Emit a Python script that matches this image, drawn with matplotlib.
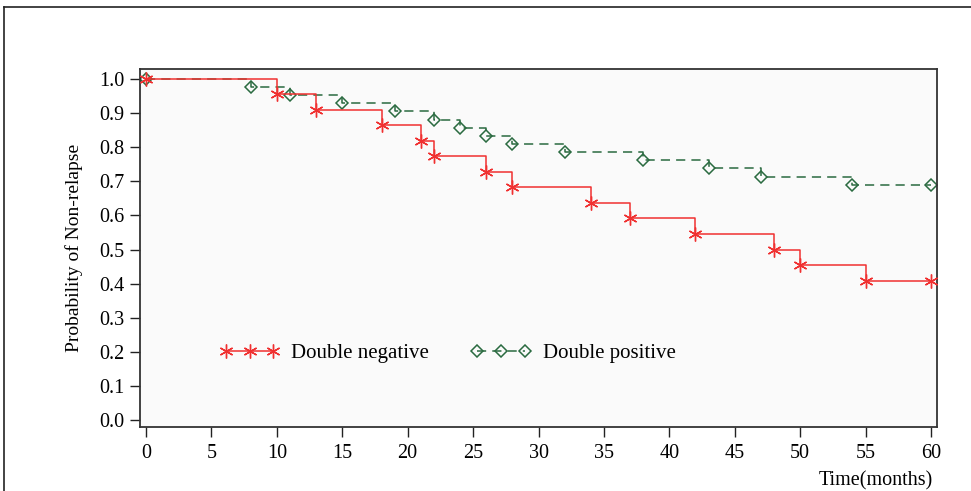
import matplotlib
matplotlib.use("Agg")
import matplotlib.pyplot as plt
from matplotlib.lines import Line2D

plt.rcParams['font.family'] = ['Liberation Serif', 'DejaVu Serif']

# Data
neg_time = [0, 10, 13, 18, 21, 22, 26, 28, 34, 37, 42, 48, 50, 55, 60]
neg_surv = [1.0, 0.955, 0.909, 0.864, 0.818, 0.773, 0.727, 0.682, 0.636, 0.591, 0.545, 0.500, 0.455, 0.409, 0.409]
pos_time = [0, 8, 11, 15, 19, 22, 24, 26, 28, 32, 38, 43, 47, 54, 60]
pos_surv = [1.0, 0.976, 0.952, 0.929, 0.905, 0.881, 0.857, 0.833, 0.810, 0.786, 0.762, 0.738, 0.714, 0.690, 0.690]
x_ticks = list(range(0, 61, 5))
y_ticks = [0.0, 0.1, 0.2, 0.3, 0.4, 0.5, 0.6, 0.7, 0.8, 0.9, 1.0]

red = '#f03030'
green = '#2a6a40'

fig = plt.figure(figsize=(9.71, 4.91), dpi=100)
fig.patch.set_facecolor('white')
# outer border lines
fig.add_artist(Line2D([4/971, 1.0], [1-7/491, 1-7/491], color='#222222', lw=1.2))
fig.add_artist(Line2D([4/971, 4/971], [0, 1-7/491], color='#222222', lw=1.2))

ax = fig.add_axes([140/971, (491-427)/491, (937-140)/971, (427-69)/491])
ax.set_facecolor('#fafafa')

ax.plot(pos_time, pos_surv, drawstyle='steps-post', color=green, lw=1.1,
        ls=(0, (6, 4)), marker='D', ms=6.5, mfc='none', mec=green, mew=1.1,
        label='Double positive', zorder=2)
ax.plot(neg_time, neg_surv, drawstyle='steps-post', color=red, lw=1.1,
        marker=(6, 2, 0), ms=10, mec=red, mew=1.0, label='Double negative', zorder=3)

ax.set_xlim(-0.46, 60.46)
ax.set_ylim(-0.0205, 1.0293)
ax.set_xticks(x_ticks)
ax.set_xticklabels([str(t) for t in x_ticks], fontsize=14.5)
ax.set_yticks(y_ticks)
ax.set_yticklabels([f'{v:.1f}' for v in y_ticks], fontsize=14.5)
ax.tick_params(axis='both', direction='out', length=7, width=1, color='#222222')
ax.tick_params(axis='x', pad=5)
ax.tick_params(axis='y', pad=4)
for s in ax.spines.values():
    s.set_color('#333333')
    s.set_linewidth(1.3)

ax.set_ylabel('Probability of Non-relapse', fontsize=14, labelpad=12)
fig.text(876/971, 1-481/491, 'Time(months)', fontsize=14.5, ha='center', va='center')

h, l = ax.get_legend_handles_labels()
leg = ax.legend(h[::-1], l[::-1], loc='center left', bbox_to_anchor=(0.076, 0.205),
                ncol=2, frameon=False, numpoints=3, handlelength=2.9,
                fontsize=15, columnspacing=2.0, handletextpad=0.55)

fig.savefig('out.png', dpi=100)
